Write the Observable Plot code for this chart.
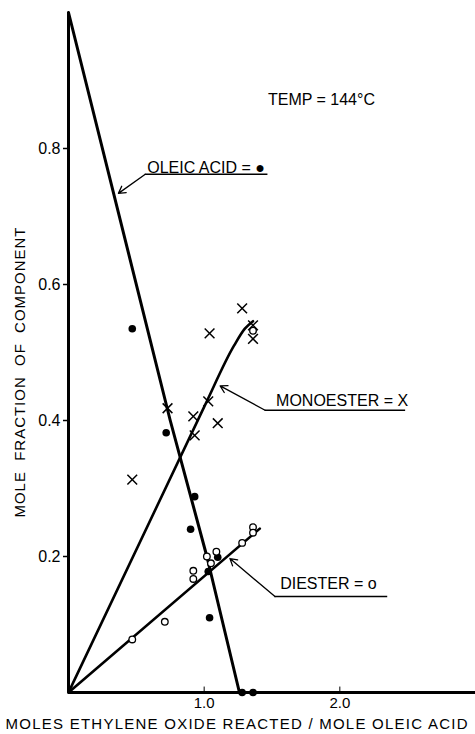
<!DOCTYPE html>
<html>
<head>
<meta charset="utf-8">
<script src="https://cdn.jsdelivr.net/npm/d3@7"></script>
<script src="https://cdn.jsdelivr.net/npm/@observablehq/plot@0.6"></script>
<style>
  html, body { margin: 0; padding: 0; background: #fff; }
  #chart { width: 475px; height: 734px; }
</style>
</head>
<body>
<div id="chart"></div>
<script>
// ---- tick labels ----
const xTicks = [1.0, 2.0];
const yTicks = [0.2, 0.4, 0.6, 0.8];

// ---- measured points ----
const oleicX = [0.47, 0.72, 0.93, 0.90, 1.04, 1.10, 1.03, 1.28, 1.36];
const oleicY = [0.535, 0.382, 0.288, 0.240, 0.110, 0.199, 0.178, 0.0, 0.0];

const monoX = [0.47, 0.73, 0.92, 0.93, 1.03, 1.10, 1.04, 1.28, 1.36, 1.36];
const monoY = [0.313, 0.418, 0.406, 0.378, 0.428, 0.396, 0.528, 0.565, 0.520, 0.540];

const diX = [0.47, 0.71, 0.92, 0.92, 1.02, 1.09, 1.05, 1.28, 1.36, 1.36, 1.36];
const diY = [0.078, 0.104, 0.179, 0.167, 0.200, 0.207, 0.190, 0.220, 0.243, 0.235, 0.532];

// ---- fitted curves ----
const oleicFitX = [0, 0.45, 0.75, 1.02, 1.26];
const oleicFitY = [1.0, 0.64, 0.40, 0.20, 0.0];
const monoFitX = [0, 1.0, 1.22, 1.30, 1.36];
const monoFitY = [0, 0.42, 0.51, 0.535, 0.546];
const diFitX = [0, 1.41];
const diFitY = [0, 0.241];

// ---- text ----
const xLabel = "MOLES ETHYLENE OXIDE REACTED / MOLE OLEIC ACID";
const yLabel = "MOLE  FRACTION  OF  COMPONENT";
const tempLabel = "TEMP = 144°C";
const seriesLabels = ["OLEIC ACID = ●", "MONOESTER = X", "DIESTER = o"];
// annotation anchors (data units): label start, elbow, arrow tip, underline end
const labelX = [0.58, 1.53, 1.56];
const labelY = [0.772, 0.429, 0.160];
const elbowX = [0.566, 1.449, 1.522];
const elbowY = [0.762, 0.415, 0.141];
const tipX = [0.368, 1.118, 1.19];
const tipY = [0.734, 0.451, 0.197];
const lineEndX = [1.47, 2.485, 2.353];

const pts = (xs, ys) => xs.map((x, i) => ({x, y: ys[i]}));
const ann = seriesLabels.map((t, i) => ({
  t, lx: labelX[i], ly: labelY[i], ex: elbowX[i], ey: elbowY[i],
  tx: tipX[i], ty: tipY[i], endX: lineEndX[i]
}));

const chart = Plot.plot({
  width: 475,
  height: 734,
  marginLeft: 68,
  marginRight: 0,
  marginTop: 12,
  marginBottom: 42,
  x: {domain: [0, 3]},
  y: {domain: [0, 1]},
  style: {fontFamily: "Liberation Sans, Arial, sans-serif", fontSize: "16px", color: "#000", background: "#fff"},
  marks: [
    Plot.axisY(yTicks, {tickSize: 5, tickPadding: 3, strokeWidth: 1.5, tickFormat: d => d.toFixed(1), label: null, fontSize: 16}),
    Plot.axisX(xTicks, {tickSize: 0, tickPadding: 5, tickFormat: d => d.toFixed(1), label: null, fontSize: 15}),
    Plot.ruleX(xTicks, {y1: 0, y2: 0.008, strokeWidth: 1}),
    Plot.ruleY([0], {strokeWidth: 3}),
    Plot.ruleX([0], {strokeWidth: 3}),
    Plot.line(pts(oleicFitX, oleicFitY), {x: "x", y: "y", strokeWidth: 3, stroke: "black"}),
    Plot.line(pts(monoFitX, monoFitY), {x: "x", y: "y", strokeWidth: 2.6, stroke: "black", curve: "monotone-x"}),
    Plot.line(pts(diFitX, diFitY), {x: "x", y: "y", strokeWidth: 2.6, stroke: "black"}),
    Plot.dot(pts(oleicX, oleicY), {x: "x", y: "y", r: 3.8, fill: "black", stroke: "none"}),
    Plot.dot(pts(diX, diY), {x: "x", y: "y", r: 3.3, fill: "white", stroke: "black", strokeWidth: 1.3}),
    Plot.dot(pts(monoX, monoY), {x: "x", y: "y", r: 4.5, symbol: "times", stroke: "black", strokeWidth: 1.5}),
    // annotations
    Plot.arrow(ann, {x1: "ex", y1: "ey", x2: "tx", y2: "ty", stroke: "black", strokeWidth: 1.3, headLength: 9, bend: false}),
    Plot.ruleY(ann, {y: "ey", x1: "ex", x2: "endX", stroke: "black", strokeWidth: 1.5}),
    Plot.text(ann, {x: "lx", y: "ly", text: "t", textAnchor: "start", fontSize: 16, letterSpacing: 0.6}),
    Plot.text([tempLabel], {x: [1.47], y: [0.871], text: d => d, textAnchor: "start", fontSize: 16, letterSpacing: 0.6}),
    Plot.text([xLabel], {frameAnchor: "bottom-left", dx: -63, dy: 36, textAnchor: "start", text: d => d, fontSize: 15}),
    Plot.text([yLabel], {frameAnchor: "left", dx: -48, dy: 165, rotate: -90, textAnchor: "start", text: d => d, fontSize: 15})
  ]
});

document.getElementById("chart").appendChild(chart);

// stretch the long axis labels to the reference widths
chart.querySelectorAll("text").forEach(t => {
  if (t.textContent === xLabel) { t.setAttribute("textLength", 462); t.setAttribute("lengthAdjust", "spacing"); }
  if (t.textContent === yLabel) { t.setAttribute("textLength", 290); t.setAttribute("lengthAdjust", "spacing"); }
});
</script>
</body>
</html>
